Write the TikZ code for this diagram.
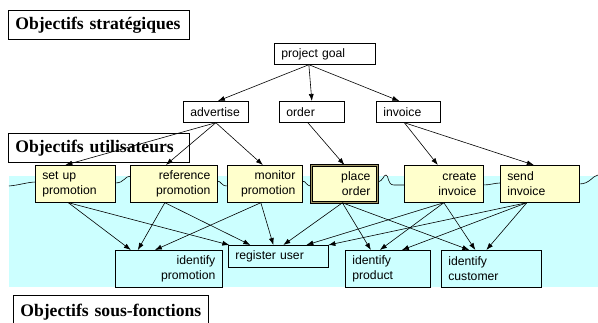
\documentclass[tikz,border=0pt]{standalone}
\usepackage{fontspec}
\setmainfont{Liberation Serif}
\setsansfont{Liberation Sans}
\usetikzlibrary{arrows.meta}
\definecolor{userfill}{RGB}{255,255,204}
\definecolor{subfill}{RGB}{204,255,255}
\definecolor{placegap}{RGB}{160,150,100}

\begin{document}
\begin{tikzpicture}[x=1pt,y=-1pt,>={Latex[length=7pt,width=5pt]},
      every node/.style={draw,line width=0.7pt,inner xsep=7pt,inner ysep=0pt,anchor=north west,
        font=\sffamily\fontsize{12.2}{15}\selectfont},
      level/.style={fill=white,align=left,font=\rmfamily\bfseries\fontsize{17.6}{20}\selectfont},
      goalbox/.style={fill=white,align=left,minimum height=21pt},
      userbox/.style={fill=userfill,minimum height=37pt},
      subbox/.style={fill=subfill,minimum height=37pt}]
      \useasboundingbox (0,0) rectangle (598,322);
      % band of the user goals
      \fill[subfill] (9,176) rectangle (598,287);
      \draw[line width=0.6pt] (9,186) .. controls (20,185) and (28,182) .. (36,182);
      \draw[line width=0.6pt] (115,183) .. controls (125,183) and (124,176) .. (131,176);
      \draw[line width=0.6pt] (217,181) .. controls (222,181) and (220,186) .. (228,186);
      \draw[line width=0.6pt] (302,181) .. controls (307,181) and (305,186) .. (312,186);
      \draw[line width=0.6pt] (377,182) .. controls (384,181) and (383,175) .. (386,175)
        .. controls (389,175) and (387,185) .. (394,185) -- (404,185);
      \draw[line width=0.6pt] (483,185) .. controls (490,185) and (495,183) .. (500,183);
      \draw[line width=0.6pt] (579,184) .. controls (590,184) and (592,176) .. (598,175);

      % levels
      \node[level,text width=167pt,minimum height=29pt] (strat) at (8,10) {Objectifs stratégiques};
      \node[level,text width=167pt,minimum height=29pt] (user) at (8,133) {Objectifs utilisateurs};
      \node[level,text width=181pt,minimum height=34pt] (subf) at (13,295) {Objectifs sous-fonctions};

      % strategic goals
      \node[goalbox,text width=87pt] (goal) at (274,43) {project goal};
      \node[goalbox,text width=51pt] (adv) at (183,101) {advertise};
      \node[goalbox,text width=51pt] (ord) at (279,101) {order};
      \node[goalbox,text width=50pt] (inv) at (376,101) {invoice};

      % user goals
      \node[userbox,text width=66pt,align=left] (setup) at (35,165) {set up\\promotion};
      \node[userbox,text width=73pt,align=right] (ref) at (130,165) {reference\\promotion};
      \node[userbox,text width=61pt,align=right] (mon) at (227,165) {monitor\\promotion};
      \node[userbox,text width=52pt,align=right,line width=0.8pt,double=placegap,double distance=1.2pt] (place) at (311,165) {place\\order};
      \node[userbox,text width=65pt,align=right] (create) at (404,165) {create\\invoice};
      \node[userbox,text width=65pt,align=left] (send) at (500,165) {send\\invoice};

      % sub-functions
      \node[subbox,text width=93pt,align=right] (idpromo) at (115,250) {identify\\promotion};
      \node[subbox,text width=86pt,align=left,minimum height=22pt] (reg) at (228,245) {register user};
      \node[subbox,text width=71pt,align=left] (idprod) at (345,250) {identify\\product};
      \node[subbox,text width=86pt,align=left] (idcust) at (441,250) {identify\\customer};

      \path[->,line width=0.6pt]
        ([xshift=-16pt]goal.south) edge ([xshift=2pt]adv.north)
        ([xshift=-16pt]goal.south) edge (ord.north)
        ([xshift=-16pt]goal.south) edge ([xshift=-9pt]inv.north)
        (adv.south) edge ([xshift=-10pt]setup.north)
        (adv.south) edge ([xshift=-8pt]ref.north)
        (adv.south) edge ([xshift=-2pt]mon.north)
        ([xshift=-4pt]ord.south) edge (place.north)
        ([xshift=-4pt]inv.south) edge ([xshift=-6pt]create.north)
        ([xshift=-4pt]inv.south) edge ([xshift=-6pt]send.north)
        ([xshift=-7pt]setup.south) edge ([xshift=-38pt]idpromo.north)
        ([xshift=-7pt]setup.south) edge ([xshift=-49pt]reg.north)
        ([xshift=-9pt]ref.south) edge ([xshift=-31pt]idpromo.north)
        ([xshift=-9pt]ref.south) edge ([xshift=-28pt]reg.north)
        ([xshift=-4pt]mon.south) edge ([xshift=-14pt]idpromo.north)
        ([xshift=-4pt]mon.south) edge ([xshift=-5pt]reg.north)
        ([xshift=-2pt]place.south) edge ([xshift=5pt]reg.north)
        ([xshift=-2pt]place.south) edge ([xshift=-17pt]idprod.north)
        ([xshift=-2pt]place.south) edge ([xshift=-22pt]idcust.north)
        (create.south) edge ([xshift=28pt]reg.north)
        (create.south) edge ([xshift=-8pt]idprod.north)
        (create.south) edge ([xshift=-16pt]idcust.north)
        ([xshift=-13pt]send.south) edge ([xshift=50pt]reg.north)
        ([xshift=-13pt]send.south) edge ([xshift=14pt]idprod.north)
        ([xshift=-13pt]send.south) edge ([xshift=-5pt]idcust.north);
    \end{tikzpicture}
\end{document}
